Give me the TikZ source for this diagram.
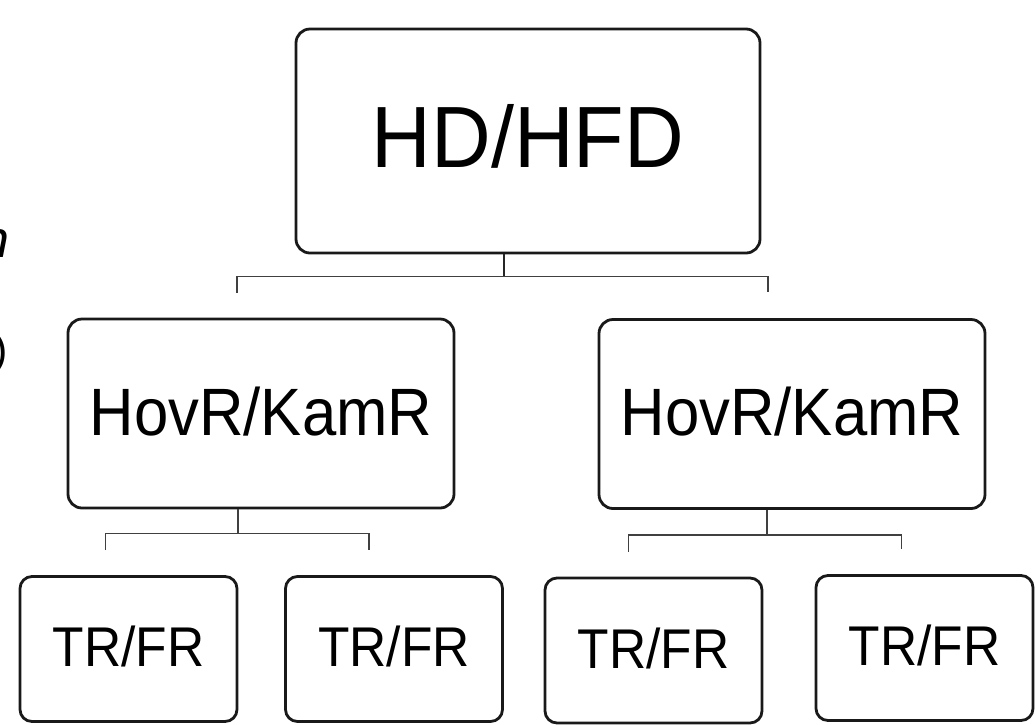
\documentclass[tikz,border=0pt]{standalone}
\usepackage{fontspec}
\setmainfont{Liberation Sans}
\newfontfamily\hdfont{Liberation Sans}[FakeStretch=0.95]
\newfontfamily\unitfont{Liberation Sans}[FakeStretch=0.92]
\begin{document}
\begin{tikzpicture}[x=1pt,y=-1pt,
  boite/.style={draw=black!90, line width=2.8pt, rounded corners=14pt, fill=white, inner sep=0pt},
  chef/.style={boite, minimum width=464pt, minimum height=224pt, font=\hdfont\fontsize{87}{90}\selectfont, text depth=10pt},
  moyen/.style={boite, minimum width=386pt, minimum height=189pt, font=\unitfont\fontsize{67}{70}\selectfont, text depth=5pt},
  petit/.style={boite, rounded corners=12pt, minimum width=217pt, minimum height=145pt, font=\unitfont\fontsize{56}{60}\selectfont, text depth=5pt},
  lien/.style={draw=black!75, line width=1.8pt}]
\useasboundingbox (0,0) rectangle (1035,724);

% bouts de texte coupes a gauche
\node[anchor=base east, inner sep=0pt, font=\itshape\fontsize{52}{52}\selectfont] (bout1) at (10,257) {n};
\node[anchor=base east, inner sep=0pt, font=\fontsize{43}{43}\selectfont] (bout2) at (8,364) {)};

% niveau 1
\node[chef] (hd) at (528,141) {HD/HFD};

% niveau 2
\node[moyen] (hovg) at (261,413.5) {HovR/KamR};
\node[moyen] (hovd) at (792,414) {HovR/KamR};

% niveau 3
\node[petit] (tr1) at (128.5,649) {TR/FR};
\node[petit] (tr2) at (394,649) {TR/FR};
\node[petit] (tr3) at (653.5,650.5) {TR/FR};
\node[petit] (tr4) at (924.5,648) {TR/FR};

% liens
\coordinate (j1) at ([xshift=-24pt,yshift=-22pt]hd.south);
\draw[lien, line width=2.4pt, draw=black!85] ([xshift=-24pt]hd.south) -- (j1);
\draw[lien] ([xshift=-24pt,yshift=25pt]hovg.north) |- (j1) -| ([xshift=-24pt,yshift=26pt]hovd.north);

\coordinate (j2) at ([xshift=-23pt,yshift=-24pt]hovg.south);
\draw[lien] ([xshift=-23pt]hovg.south) -- (j2);
\draw[lien] ([xshift=-23pt,yshift=25pt]tr1.north) |- (j2) -| ([xshift=-25pt,yshift=25pt]tr2.north);

\coordinate (j3) at ([xshift=-25pt,yshift=-25pt]hovd.south);
\draw[lien] ([xshift=-25pt]hovd.south) -- (j3);
\draw[lien] ([xshift=-25pt,yshift=25pt]tr3.north) |- (j3) -| ([xshift=-23pt,yshift=25pt]tr4.north);

\end{tikzpicture}
\end{document}
